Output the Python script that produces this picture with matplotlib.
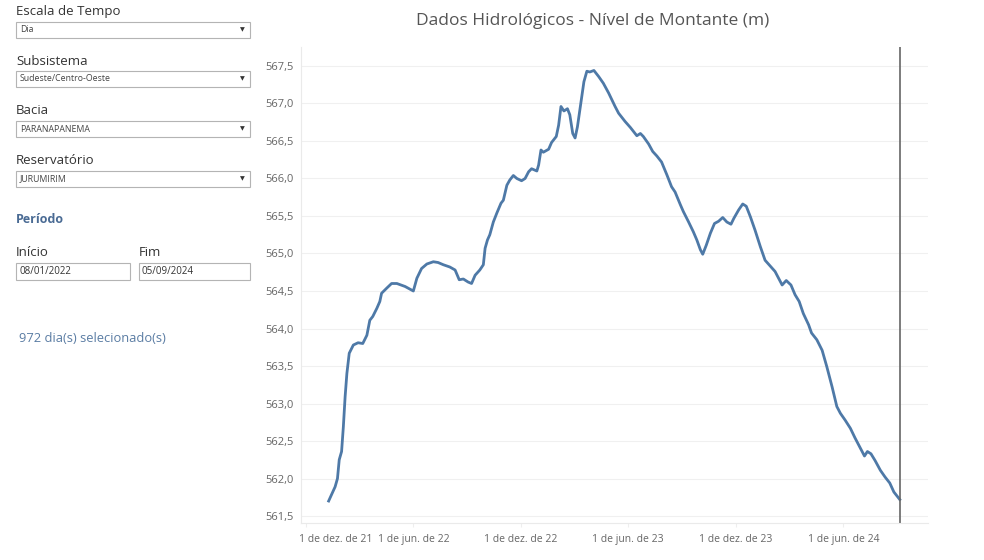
"""
Nível de Montante - reservatório Jurumirim (painel estilo Tableau).
"""

import matplotlib.patches as mpatches
import matplotlib.pyplot as plt
import matplotlib.transforms as mtransforms
import numpy as np

plt.rcParams["font.family"] = ["Open Sans", "DejaVu Sans"]

# data: days since 08/01/2022 and level (m)
start_date = np.datetime64("2022-01-08")
day_offset = [
    0, 11, 15, 18, 22, 25, 28, 31, 35, 42, 50, 58, 65, 70, 75, 82, 87, 90, 99,
    107, 116, 130, 144, 150, 158, 167, 178, 186, 195, 206, 215, 222, 229, 237,
    243, 249, 257, 263, 266, 270, 274, 280, 286, 293, 297, 303, 308, 314, 320,
    328, 334, 340, 345, 354, 357, 361, 365, 374, 379, 387, 391, 395, 400, 406,
    410, 415, 419, 423, 429, 434, 439, 444, 451, 459, 467, 476, 487, 493, 504,
    513, 524, 530, 535, 544, 551, 558, 566, 575, 583, 589, 598, 603, 612, 620,
    626, 632, 636, 642, 649, 656, 663, 670, 677, 684, 689, 697, 704, 710, 717,
    725, 734, 742, 751, 759, 765, 771, 778, 786, 793, 800, 807, 816, 821, 830,
    839, 847, 856, 864, 870, 878, 887, 895, 903, 911, 916, 922, 929, 938, 946,
    954, 961, 969, 971,
]
nivel = [
    561.70, 561.89, 562.00, 562.25, 562.36, 562.69, 563.09, 563.40, 563.67,
    563.78, 563.81, 563.80, 563.91, 564.11, 564.16, 564.27, 564.36, 564.47,
    564.54, 564.60, 564.60, 564.56, 564.50, 564.67, 564.80, 564.86, 564.89,
    564.88, 564.85, 564.82, 564.78, 564.65, 564.66, 564.62, 564.60, 564.71,
    564.78, 564.85, 565.07, 565.18, 565.25, 565.42, 565.54, 565.67, 565.71,
    565.91, 565.98, 566.04, 566.00, 565.97, 566.00, 566.09, 566.13, 566.10,
    566.18, 566.38, 566.35, 566.39, 566.48, 566.56, 566.71, 566.96, 566.90,
    566.93, 566.85, 566.60, 566.54, 566.69, 567.02, 567.29, 567.43, 567.42,
    567.44, 567.36, 567.27, 567.14, 566.96, 566.87, 566.76, 566.68, 566.57,
    566.60, 566.56, 566.46, 566.36, 566.30, 566.22, 566.05, 565.89, 565.82,
    565.65, 565.56, 565.42, 565.29, 565.18, 565.05, 564.99, 565.11, 565.27,
    565.40, 565.43, 565.48, 565.42, 565.39, 565.47, 565.58, 565.66, 565.63,
    565.49, 565.31, 565.09, 564.91, 564.83, 564.76, 564.67, 564.58, 564.64,
    564.58, 564.45, 564.36, 564.20, 564.05, 563.94, 563.85, 563.71, 563.49,
    563.22, 562.96, 562.87, 562.78, 562.67, 562.54, 562.42, 562.30, 562.36,
    562.33, 562.24, 562.11, 562.02, 561.94, 561.82, 561.74, 561.72,
]
end_date = np.datetime64("2024-09-05")

x_ticks = ["2021-12-01", "2022-06-01", "2022-12-01", "2023-06-01", "2023-12-01", "2024-06-01"]
x_tick_labels = ["1 de dez. de 21", "1 de jun. de 22", "1 de dez. de 22",
                 "1 de jun. de 23", "1 de dez. de 23", "1 de jun. de 24"]
y_ticks = [561.5, 562.0, 562.5, 563.0, 563.5, 564.0, 564.5, 565.0, 565.5, 566.0, 566.5, 567.0, 567.5]

filters = [
    ("Escala de Tempo", "Dia"),
    ("Subsistema", "Sudeste/Centro-Oeste"),
    ("Bacia", "PARANAPANEMA"),
    ("Reservatório", "JURUMIRIM"),
]

W, H = 984, 560
fig = plt.figure(figsize=(W / 100, H / 100), dpi=100)
fig.patch.set_facecolor("white")


def fx(px):
    return px / W


def fy(py):
    return 1 - py / H


def box(x0, y0, x1, y1):
    fig.patches.append(mpatches.Rectangle(
        (fx(x0), fy(y1)), fx(x1 - x0), (y1 - y0) / H,
        transform=fig.transFigure, facecolor="white", edgecolor="#b4b4b4", linewidth=0.8))


# left filter panel
label_y = [12, 61, 111, 161]
for (label, value), ly in zip(filters, label_y):
    fig.text(fx(16), fy(ly), label, fontsize=9.5, color="#333333", va="center")
    box(16, ly + 10, 250, ly + 26)
    fig.text(fx(20), fy(ly + 18), value, fontsize=6.3, color="#444444", va="center")
    fig.text(fx(242), fy(ly + 18), "▼", fontsize=4.5, color="#333333",
             va="center", ha="center", family="DejaVu Sans")

fig.text(fx(16), fy(220), "Período", fontsize=9, color="#4a6b94", va="center", fontweight="bold")
fig.text(fx(16), fy(253), "Início", fontsize=9.5, color="#333333", va="center")
fig.text(fx(139), fy(253), "Fim", fontsize=9.5, color="#333333", va="center")
box(16, 263, 130, 280)
box(139, 263, 250, 280)
fig.text(fx(19), fy(271.5), "08/01/2022", fontsize=7, color="#333333", va="center")
fig.text(fx(142), fy(271.5), "05/09/2024", fontsize=7, color="#333333", va="center")
fig.text(fx(19), fy(338), "972 dia(s) selecionado(s)", fontsize=9.3, color="#5a7ca3", va="center")

# chart
ax = fig.add_axes([fx(301), fy(523), fx(928 - 301), (523 - 47) / H])
dates = start_date + np.array(day_offset).astype("timedelta64[D]")
ax.plot(dates, nivel, color="#4e79a7", linewidth=2.0, solid_joinstyle="round")
ax.axvline(end_date, color="#666666", linewidth=1.2)

ax.set_xlim(np.datetime64("2021-11-22"), np.datetime64("2024-10-23"))
ax.set_ylim(561.407, 567.753)
ax.set_yticks(y_ticks)
ax.set_yticklabels([f"{v:.1f}".replace(".", ",") for v in y_ticks])
ax.set_xticks([np.datetime64(d) for d in x_ticks])
ax.set_xticklabels(x_tick_labels)
ax.grid(True, axis="y", color="#f0f0f0", linewidth=0.8)
ax.set_axisbelow(True)
ax.tick_params(axis="y", length=0, labelsize=8, labelcolor="#666666", pad=5)
ax.tick_params(axis="x", length=3, color="#eeeeee", labelsize=7.5, labelcolor="#666666", pad=5)
for side in ["top", "right"]:
    ax.spines[side].set_visible(False)
ax.spines["left"].set_color("#eaeaea")
ax.spines["bottom"].set_color("#eaeaea")

# first date label is pushed right to stay inside the pane
first = ax.get_xticklabels()[0]
first.set_transform(first.get_transform() + mtransforms.ScaledTranslation(0.29, 0, fig.dpi_scale_trans))

fig.text(fx(593), fy(21), "Dados Hidrológicos - Nível de Montante (m)",
         fontsize=12.5, color="#555555", ha="center", va="center")

fig.savefig("out.png", dpi=100, facecolor="white")
